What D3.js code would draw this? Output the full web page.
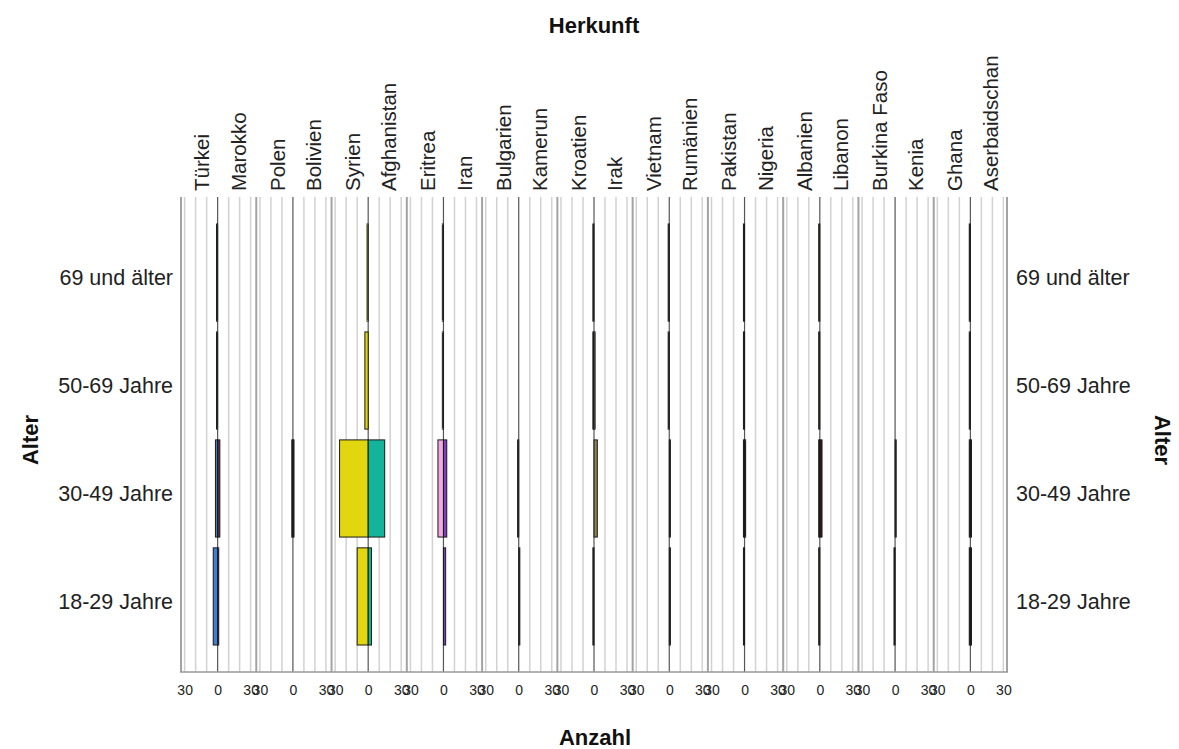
<!DOCTYPE html>
<html>
<head>
<meta charset="utf-8">
<script src="https://cdn.jsdelivr.net/npm/d3@7"></script>
<style>
  html, body { margin: 0; padding: 0; background: #fff; }
  svg { display: block; font-family: "Liberation Sans", Arial, sans-serif; }
</style>
</head>
<body>
<svg id="chart" width="1179" height="749"></svg>
<script>
// ---- Data ----
const herkunft = ["Türkei","Marokko","Polen","Bolivien","Syrien","Afghanistan","Eritrea","Iran",
  "Bulgarien","Kamerun","Kroatien","Irak","Vietnam","Rumänien","Pakistan","Nigeria",
  "Albanien","Libanon","Burkina Faso","Kenia","Ghana","Aserbaidschan"];
const altersgruppen = ["69 und älter","50-69 Jahre","30-49 Jahre","18-29 Jahre"];
// counts per age group, aligned with herkunft (null = no bar)
const anzahl69 = [1,0, null,null, 1,0, 1,0, 0,null, 1,0, 1,0, 1,0, 1,0, null,null, 1,0];
const anzahl50 = [1,0, null,null, 3,0, 1,0, 0,null, 1,1, 1,0, 1,0, 1,0, null,null, 1,0];
const anzahl30 = [2,2, 1,1, 26,15, 5,3, 1,0, 0,3, 0,1, 1,1, 1,2, 0,1, 1,1];
const anzahl18 = [4,1, null,null, 10,3, 0,2, 0,1, 1,0, 0,1, 1,0, 1,0, 1,0, 1,1];
const tickWerte = [-30, 0, 30];
const tickLabels = ["30","0","30"];
const gridWerte = [-30,-20,-10,10,20,30];
const farben = ["#3f7ed6","#6b2236","#2a2a2a","#333333","#e2d60f","#13b49b","#f2a9de","#7a3ec2",
  "#44464f","#3a3a3a","#2f2f2f","#8b8452","#3b3b3b","#2e2e2e","#262626","#333333",
  "#4e2418","#3a1a10","#262626","#333333","#262626","#303030"];

const werteJeGruppe = [anzahl69, anzahl50, anzahl30, anzahl18];

// ---- Layout ----
const svg = d3.select("#chart");
const plot = {x0: 180, x1: 1008, y0: 197, y1: 672};
const nPanels = herkunft.length / 2;
const panelX = d3.scaleBand().domain(d3.range(nPanels)).range([plot.x0, plot.x1]).padding(0);
const pw = panelX.bandwidth();
const x = d3.scaleLinear().domain([-34.2, 34.2]).range([0, pw]);
const y = d3.scaleBand().domain(altersgruppen).range([plot.y0, plot.y1])
  .paddingInner(0.1).paddingOuter(0.25);

// Title
svg.append("text").attr("x", 594).attr("y", 25).attr("dy", "0.35em")
  .attr("text-anchor", "middle").attr("font-size", 22).attr("font-weight", "bold")
  .attr("fill", "#111").text("Herkunft");

// Axis titles
svg.append("text").attr("transform", "translate(30,440) rotate(-90)").attr("dy", "0.35em")
  .attr("text-anchor", "middle").attr("font-size", 22).attr("font-weight", "bold")
  .attr("fill", "#111").text("Alter");
svg.append("text").attr("transform", "translate(1163,440) rotate(90)").attr("dy", "0.35em")
  .attr("text-anchor", "middle").attr("font-size", 22).attr("font-weight", "bold")
  .attr("fill", "#111").text("Alter");
svg.append("text").attr("x", 595).attr("y", 737).attr("dy", "0.35em")
  .attr("text-anchor", "middle").attr("font-size", 22).attr("font-weight", "bold")
  .attr("fill", "#111").text("Anzahl");

// Y labels left & right
altersgruppen.forEach(a => {
  const cy = y(a) + y.bandwidth() / 2 + 5;
  svg.append("text").attr("x", 173).attr("y", cy).attr("dy", "0.35em")
    .attr("text-anchor", "end").attr("font-size", 21.5).attr("fill", "#222").text(a);
  svg.append("text").attr("x", 1016).attr("y", cy).attr("dy", "0.35em")
    .attr("text-anchor", "start").attr("font-size", 21.5).attr("fill", "#222").text(a);
});

// Panels
d3.range(nPanels).forEach(p => {
  const g = svg.append("g").attr("transform", `translate(${panelX(p)},0)`);
  // grid
  g.selectAll("line.grid").data(gridWerte).join("line")
    .attr("x1", d => x(d)).attr("x2", d => x(d))
    .attr("y1", plot.y0).attr("y2", plot.y1)
    .attr("stroke", "#d2d2d2").attr("stroke-width", 1.5);
  // panel border
  g.append("line").attr("x1", 1).attr("x2", 1).attr("y1", plot.y0).attr("y2", plot.y1)
    .attr("stroke", "#a3a3a3").attr("stroke-width", 2);
  if (p === nPanels - 1) {
    g.append("line").attr("x1", pw - 1).attr("x2", pw - 1).attr("y1", plot.y0).attr("y2", plot.y1)
      .attr("stroke", "#a3a3a3").attr("stroke-width", 2);
  }
  // center line
  g.append("line").attr("x1", x(0)).attr("x2", x(0)).attr("y1", plot.y0).attr("y2", plot.y1)
    .attr("stroke", "#555").attr("stroke-width", 1.2);

  // bars
  const li = 2 * p, ri = 2 * p + 1;
  altersgruppen.forEach((a, k) => {
    const vals = werteJeGruppe[k];
    const vl = vals[li], vr = vals[ri];
    if (vl !== null && vl !== undefined) {
      g.append("rect").attr("x", x(-vl)).attr("width", x(0) - x(-vl))
        .attr("y", y(a)).attr("height", y.bandwidth())
        .attr("fill", farben[li]).attr("stroke", "#1a1a1a").attr("stroke-width", 1);
    }
    if (vr !== null && vr !== undefined) {
      g.append("rect").attr("x", x(0)).attr("width", x(vr) - x(0))
        .attr("y", y(a)).attr("height", y.bandwidth())
        .attr("fill", farben[ri]).attr("stroke", "#1a1a1a").attr("stroke-width", 1);
    }
  });

  // bottom axis
  const ax = g.append("g").attr("transform", `translate(0,${plot.y1})`)
    .call(d3.axisBottom(x).tickValues(tickWerte).tickSize(0)
      .tickFormat((d, i) => tickLabels[i]));
  ax.select(".domain").remove();
  ax.selectAll("text").attr("font-size", 14).attr("fill", "#222")
    .attr("font-family", "Liberation Sans, Arial, sans-serif").attr("dy", "1.45em");

  // country labels (read bottom-to-top, starting just above the plot)
  [[li, -14], [ri, 19]].forEach(([idx, pos]) => {
    g.append("text")
      .attr("transform", `translate(${x(pos)},191) rotate(-90)`)
      .attr("dy", "0.35em").attr("text-anchor", "start")
      .attr("font-size", 20.5).attr("fill", "#222").text(herkunft[idx]);
  });
});

// bottom baseline
svg.append("line").attr("x1", plot.x0).attr("x2", plot.x1).attr("y1", plot.y1).attr("y2", plot.y1)
  .attr("stroke", "#999").attr("stroke-width", 1.5);
</script>
</body>
</html>
